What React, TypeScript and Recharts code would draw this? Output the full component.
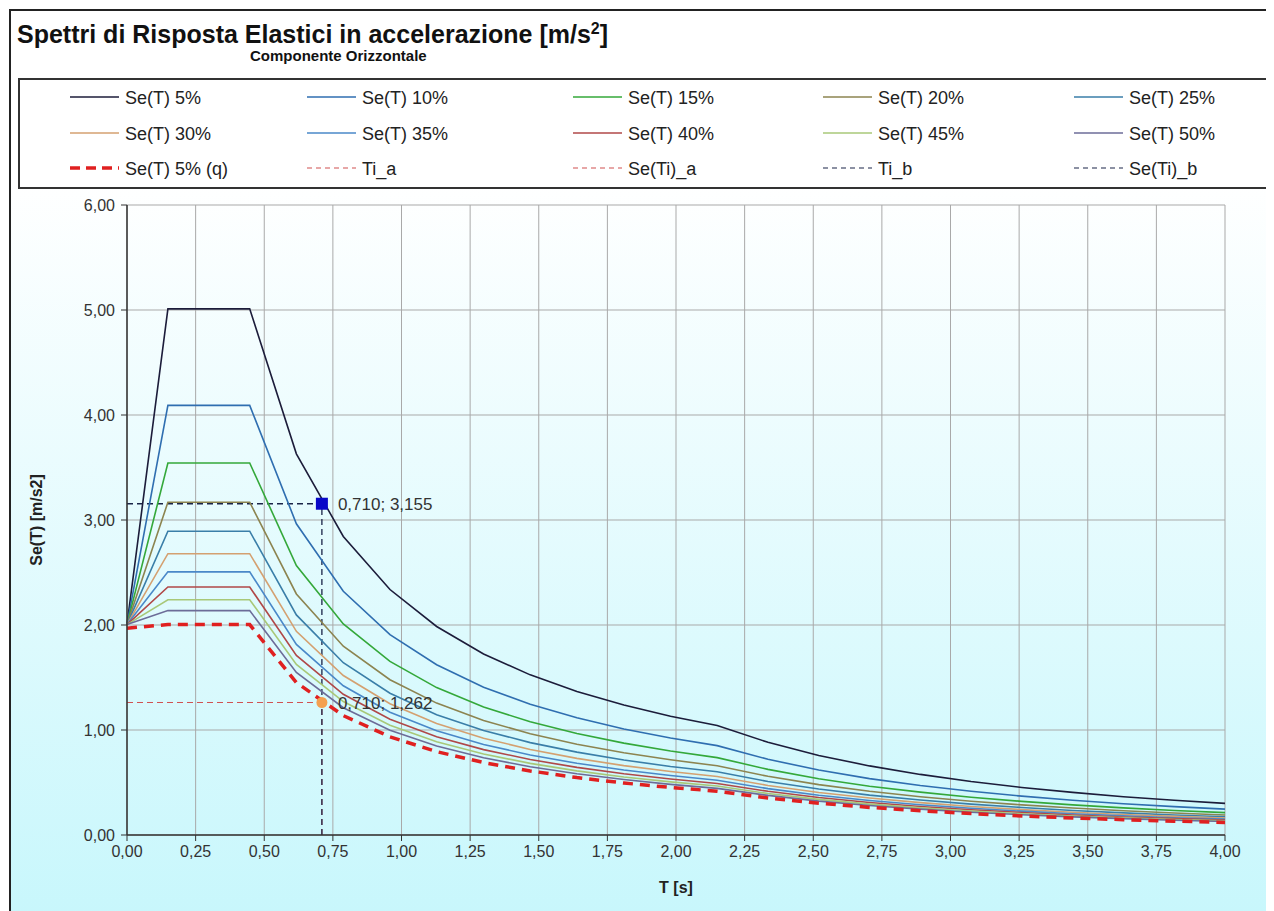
import {
  LineChart,
  Line,
  XAxis,
  YAxis,
  CartesianGrid,
  ReferenceLine,
  ReferenceDot,
} from "recharts";

// periodi T [s]
const periods = [
  0, 0.149, 0.447, 0.617, 0.788, 0.958, 1.128, 1.299, 1.469, 1.639, 1.81, 1.98,
  2.15, 2.335, 2.52, 2.705, 2.89, 3.075, 3.26, 3.445, 3.63, 3.815, 4.0,
];

// Se(T) [m/s2] per smorzamento
const se5 = [2.004, 5.011, 5.011, 3.63, 2.843, 2.338, 1.986, 1.724, 1.525, 1.367, 1.238, 1.131, 1.042, 0.883, 0.758, 0.658, 0.577, 0.509, 0.453, 0.406, 0.365, 0.331, 0.301];
const se10 = [2.004, 4.092, 4.092, 2.964, 2.321, 1.909, 1.621, 1.408, 1.245, 1.116, 1.01, 0.924, 0.851, 0.721, 0.619, 0.537, 0.471, 0.416, 0.37, 0.331, 0.298, 0.27, 0.246];
const se15 = [2.004, 3.543, 3.543, 2.567, 2.01, 1.653, 1.404, 1.219, 1.078, 0.966, 0.875, 0.8, 0.737, 0.625, 0.536, 0.465, 0.408, 0.36, 0.32, 0.287, 0.258, 0.234, 0.213];
const se20 = [2.004, 3.169, 3.169, 2.296, 1.798, 1.479, 1.256, 1.091, 0.964, 0.864, 0.783, 0.716, 0.659, 0.559, 0.48, 0.416, 0.365, 0.322, 0.287, 0.257, 0.231, 0.209, 0.19];
const se25 = [2.004, 2.893, 2.893, 2.096, 1.641, 1.35, 1.146, 0.996, 0.88, 0.789, 0.714, 0.653, 0.602, 0.51, 0.438, 0.38, 0.333, 0.294, 0.262, 0.234, 0.211, 0.191, 0.174];
const se30 = [2.004, 2.679, 2.679, 1.94, 1.519, 1.25, 1.061, 0.922, 0.815, 0.73, 0.661, 0.605, 0.557, 0.472, 0.405, 0.352, 0.308, 0.272, 0.242, 0.217, 0.195, 0.177, 0.161];
const se35 = [2.004, 2.506, 2.506, 1.815, 1.421, 1.169, 0.993, 0.862, 0.762, 0.683, 0.619, 0.566, 0.521, 0.442, 0.379, 0.329, 0.288, 0.255, 0.227, 0.203, 0.183, 0.165, 0.151];
const se40 = [2.004, 2.362, 2.362, 1.711, 1.34, 1.102, 0.936, 0.813, 0.719, 0.644, 0.583, 0.533, 0.491, 0.416, 0.357, 0.31, 0.272, 0.24, 0.214, 0.191, 0.172, 0.156, 0.142];
const se45 = [2.004, 2.241, 2.241, 1.624, 1.271, 1.046, 0.888, 0.771, 0.682, 0.611, 0.553, 0.506, 0.466, 0.395, 0.339, 0.294, 0.258, 0.228, 0.203, 0.181, 0.163, 0.148, 0.135];
const se50 = [2.004, 2.137, 2.137, 1.548, 1.212, 0.997, 0.847, 0.735, 0.65, 0.583, 0.528, 0.482, 0.444, 0.377, 0.323, 0.281, 0.246, 0.217, 0.193, 0.173, 0.156, 0.141, 0.128];
const seQ = [1.97, 2.004, 2.004, 1.452, 1.137, 0.935, 0.794, 0.69, 0.61, 0.547, 0.495, 0.453, 0.417, 0.353, 0.303, 0.263, 0.231, 0.204, 0.181, 0.162, 0.146, 0.132, 0.12];

const seriesNames = [
  "Se(T) 5%", "Se(T) 10%", "Se(T) 15%", "Se(T) 20%", "Se(T) 25%",
  "Se(T) 30%", "Se(T) 35%", "Se(T) 40%", "Se(T) 45%", "Se(T) 50%",
];
const seriesColors = [
  "#1c1c3a", "#2f6eb0", "#34a83a", "#8c8450", "#3a7ea8",
  "#d4a070", "#4a88c8", "#b04848", "#a8c878", "#6c6c98",
];
const seriesValues = [se5, se10, se15, se20, se25, se30, se35, se40, se45, se50];

// punto di verifica
const Ti = 0.71;
const SeA = 1.262;
const SeB = 3.155;

const xTicks = [0, 0.25, 0.5, 0.75, 1, 1.25, 1.5, 1.75, 2, 2.25, 2.5, 2.75, 3, 3.25, 3.5, 3.75, 4];
const yTicks = [0, 1, 2, 3, 4, 5, 6];

const data = periods.map((T, i) => {
  const row: any = { T, q: seQ[i] };
  seriesValues.forEach((vals, k) => {
    row["s" + k] = vals[i];
  });
  return row;
});

const fmt = (v: number) => v.toFixed(2).replace(".", ",");

const legendRows = [
  seriesNames.slice(0, 5).map((n, i) => ({ name: n, color: seriesColors[i], dash: "", w: 1.5 })),
  seriesNames.slice(5, 10).map((n, i) => ({ name: n, color: seriesColors[i + 5], dash: "", w: 1.5 })),
  [
    { name: "Se(T) 5% (q)", color: "#e02020", dash: "10 6", w: 3.5 },
    { name: "Ti_a", color: "#d05050", dash: "5 4", w: 1.2 },
    { name: "Se(Ti)_a", color: "#d05050", dash: "5 4", w: 1.2 },
    { name: "Ti_b", color: "#1a2448", dash: "5 4", w: 1.2 },
    { name: "Se(Ti)_b", color: "#1a2448", dash: "5 4", w: 1.2 },
  ],
];
const legendX = [117, 354, 620, 870, 1121];
const legendY = [89, 125, 160];

const font = "'Liberation Sans', Arial, sans-serif";

const Square = (props: any) => (
  <rect x={props.cx - 6} y={props.cy - 6} width={12} height={12} fill="#0808c8" />
);
const Circle = (props: any) => (
  <circle cx={props.cx} cy={props.cy} r={5.5} fill="#f4a050" />
);

export default function App() {
  return (
    <div style={{ position: "relative", width: 1266, height: 903, overflow: "hidden", fontFamily: font }}>
      <div
        style={{
          position: "absolute",
          left: 1,
          top: 1,
          width: 1400,
          height: 1000,
          borderLeft: "2px solid #222",
          borderTop: "2px solid #222",
          background: "linear-gradient(to bottom, #ffffff 0px, #ffffff 170px, #c8f7fc 903px)",
        }}
      />
      <div style={{ position: "absolute", left: 9, top: 11, fontSize: 25, fontWeight: 700, color: "#111", lineHeight: "30px", whiteSpace: "nowrap" }}>
        Spettri di Risposta Elastici in accelerazione [m/s<sup style={{ fontSize: 16, lineHeight: 0 }}>2</sup>]
      </div>
      <div style={{ position: "absolute", left: 242, top: 39, fontSize: 15, fontWeight: 700, color: "#111", whiteSpace: "nowrap" }}>
        Componente Orizzontale
      </div>
      <div
        style={{
          position: "absolute",
          left: 10,
          top: 70,
          width: 1400,
          height: 107,
          border: "2px solid #333",
          background: "#fff",
        }}
      />
      <svg style={{ position: "absolute", left: 0, top: 0 }} width={1266} height={190}>
        {legendRows.map((row, r) =>
          row.map((it, c) => (
            <g key={r + "-" + c}>
              <line
                x1={legendX[c] - 55}
                x2={legendX[c] - 6}
                y1={legendY[r]}
                y2={legendY[r]}
                stroke={it.color}
                strokeWidth={it.w}
                strokeDasharray={it.dash || undefined}
              />
              <text x={legendX[c]} y={legendY[r] + 6.5} fontSize={18} fill="#222" fontFamily={font}>
                {it.name}
              </text>
            </g>
          ))
        )}
      </svg>
      <div
        style={{
          position: "absolute",
          left: 29,
          top: 512,
          transform: "translate(-50%, -50%) rotate(-90deg)",
          fontSize: 16,
          fontWeight: 700,
          color: "#222",
          whiteSpace: "nowrap",
        }}
      >
        Se(T) [m/s2]
      </div>
      <div
        style={{
          position: "absolute",
          left: 668,
          top: 880,
          transform: "translate(-50%, -50%)",
          fontSize: 16,
          fontWeight: 700,
          color: "#222",
        }}
      >
        T [s]
      </div>
      <div style={{ position: "absolute", left: 0, top: 187 }}>
        <LineChart width={1266} height={708} data={data} margin={{ top: 10, right: 49, bottom: 0, left: 0 }}>
          <CartesianGrid stroke="#a9a9a9" strokeWidth={1} />
          <XAxis
            dataKey="T"
            type="number"
            domain={[0, 4]}
            ticks={xTicks}
            tickFormatter={fmt}
            height={68}
            axisLine={{ stroke: "#333", strokeWidth: 1.5 }}
            tickLine={{ stroke: "#333" }}
            tickSize={6}
            tickMargin={5}
            tick={{ fontSize: 16, fill: "#333", fontFamily: font }}
            interval={0}
          />
          <YAxis
            type="number"
            domain={[0, 6]}
            ticks={yTicks}
            tickFormatter={fmt}
            width={119}
            axisLine={{ stroke: "#333", strokeWidth: 1.5 }}
            tickLine={{ stroke: "#333" }}
            tickSize={6}
            tickMargin={6}
            tick={{ fontSize: 16, fill: "#333", fontFamily: font }}
            interval={0}
          />
          <ReferenceLine segment={[{ x: 0, y: SeA }, { x: Ti, y: SeA }]} stroke="#d05050" strokeWidth={1} strokeDasharray="6 4" />
          <ReferenceLine segment={[{ x: Ti, y: 0 }, { x: Ti, y: SeA }]} stroke="#d05050" strokeWidth={1} strokeDasharray="6 4" />
          <ReferenceLine segment={[{ x: 0, y: SeB }, { x: Ti, y: SeB }]} stroke="#1a2448" strokeWidth={1.3} strokeDasharray="6 4" />
          <ReferenceLine segment={[{ x: Ti, y: 0 }, { x: Ti, y: SeB }]} stroke="#1a2448" strokeWidth={1.3} strokeDasharray="6 4" />
          {seriesValues.map((_, k) => (
            <Line
              key={k}
              dataKey={"s" + k}
              name={seriesNames[k]}
              type="linear"
              stroke={seriesColors[k]}
              strokeWidth={1.6}
              dot={false}
              activeDot={false}
              isAnimationActive={false}
            />
          ))}
          <Line
            dataKey="q"
            name="Se(T) 5% (q)"
            type="linear"
            stroke="#e02020"
            strokeWidth={3.5}
            strokeDasharray="10 7"
            dot={false}
            activeDot={false}
            isAnimationActive={false}
          />
          <ReferenceDot
            x={Ti}
            y={SeB}
            shape={Square}
            label={{ value: "0,710; 3,155", position: "right", offset: 6, fontSize: 17, fill: "#333", fontFamily: font }}
          />
          <ReferenceDot
            x={Ti}
            y={SeA}
            shape={Circle}
            label={{ value: "0,710; 1,262", position: "right", offset: 6, fontSize: 17, fill: "#333", fontFamily: font }}
          />
        </LineChart>
      </div>
    </div>
  );
}
